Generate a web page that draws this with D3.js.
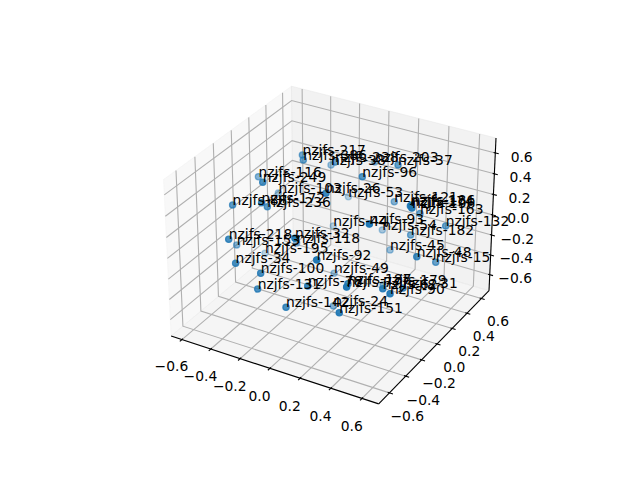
<!DOCTYPE html>
<html><head><meta charset="utf-8"><style>html,body{margin:0;background:#fff}text{font-family:"DejaVu Sans"}</style>
<script src="https://cdn.jsdelivr.net/npm/d3@7"></script></head><body><svg id="c" width="640" height="480"></svg>
<script>
const xLimits=[-0.648,0.678],yLimits=[-0.70,0.68],zLimits=[-0.734,0.711];
const tickValues=[-0.6,-0.4,-0.2,0,0.2,0.4,0.6];
const labels=["nzjfs-217","nzjfs-386","nzjfs-38","nzjfs-238","nzjfs-203","nzjfs-37","nzjfs-96","nzjfs-116","nzjfs-249","nzjfs-103","nzjfs-26","nzjfs-53","nzjfs-88","nzjfs-172","nzjfs-236","nzjfs-121","nzjfs-186","nzjfs-196","nzjfs-174","nzjfs-163","nzjfs-132","nzjfs-182","nzjfs-44","nzjfs-93","nzjfs-54","nzjfs-45","nzjfs-48","nzjfs-15","nzjfs-49","nzjfs-92","nzjfs-218","nzjfs-153","nzjfs-32","nzjfs-118","nzjfs-195","nzjfs-34","nzjfs-100","nzjfs-131","nzjfs-78","nzjfs-77","nzjfs-187","nzjfs-142","nzjfs-24","nzjfs-151","nzjfs-62","nzjfs-179","nzjfs-90","nzjfs-31"];
const xValues=[-0.240,-0.204,-0.231,-0.033,-0.009,0.297,0.191,-0.495,-0.263,-0.461,0.110,-0.182,-0.442,-0.207,-0.268,0.231,0.565,0.605,0.560,0.457,0.619,0.402,-0.217,0.470,0.087,0.200,0.620,0.606,-0.054,0.250,-0.324,-0.505,0.112,-0.292,-0.534,-0.281,-0.115,-0.140,0.177,0.439,0.326,0.048,0.074,0.393,0.542,0.296,0.619,0.558];
const yValues=[0.081,0.029,0.409,0.101,0.553,0.258,0.019,-0.000,-0.334,0.171,-0.263,0.539,-0.379,-0.443,-0.280,0.348,-0.091,-0.168,-0.097,0.236,0.247,0.231,0.412,-0.417,0.477,0.364,-0.122,0.156,0.128,-0.619,-0.618,-0.247,-0.619,0.093,0.122,-0.620,-0.620,-0.616,-0.594,-0.619,-0.396,-0.619,-0.113,-0.619,-0.384,0.094,-0.444,-0.164];
const zValues=[0.618,0.617,0.316,0.618,0.339,0.616,0.620,0.364,0.620,0.106,0.619,-0.064,0.365,0.524,0.352,0.180,0.578,0.618,0.571,0.233,0.172,0.006,-0.287,0.586,-0.246,-0.321,0.139,-0.120,-0.495,0.305,0.253,-0.139,0.446,-0.268,-0.495,0.045,0.022,-0.142,0.011,0.136,-0.047,-0.232,-0.589,-0.126,-0.008,-0.434,0.024,-0.157];
const DEG=Math.PI/180,el=30*DEG,az=-60*DEG;
const aspect=[4,4,3],n=Math.hypot(...aspect),box=aspect.map(a=>a*1.8294640721620434/n);
const dist=10;
const E=box.map((b,i)=>b/2+dist*[Math.cos(az)*Math.cos(el),Math.sin(az)*Math.cos(el),Math.sin(el)][i]);
const R=box.map(b=>b/2);
const sub=(a,b)=>a.map((v,i)=>v-b[i]);
const cross=(a,b)=>[a[1]*b[2]-a[2]*b[1],a[2]*b[0]-a[0]*b[2],a[0]*b[1]-a[1]*b[0]];
const dot=(a,b)=>a[0]*b[0]+a[1]*b[1]+a[2]*b[2];
const unit=a=>{const l=Math.hypot(...a);return a.map(v=>v/l)};
const w=unit(sub(E,R)),u=unit(cross([0,0,1],w)),v=cross(w,u);
const sx=d3.scaleLinear().domain([-0.095,0.09]).range([143.2,512.8]);
const sy=d3.scaleLinear().domain([-0.095,0.09]).range([427.2,57.6]);
const wx=d3.scaleLinear().domain(xLimits).range([0,box[0]]);
const wy=d3.scaleLinear().domain(yLimits).range([0,box[1]]);
const wz=d3.scaleLinear().domain(zLimits).range([0,box[2]]);
function proj(p){const d=sub([wx(p[0]),wy(p[1]),wz(p[2])],E);const xc=dot(d,u),yc=dot(d,v),zc=dot(d,w);return [sx(xc/-zc),sy(yc/-zc),-zc];}
const svg=d3.select("#c");
const ext=l=>{const d=(l[1]-l[0])/48;return [l[0]-d,l[1]+d]};
const [xl,xh]=ext(xLimits),[yl,yh]=ext(yLimits),[zl,zh]=ext(zLimits);
const dx=(xLimits[1]-xLimits[0])/12,dy=(yLimits[1]-yLimits[0])/12,dz=(zLimits[1]-zLimits[0])/12;
const panes=[
 {c:"rgba(242,242,242,.5)",p:[[xl,yl,zl],[xl,yh,zl],[xl,yh,zh],[xl,yl,zh]]},
 {c:"rgba(230,230,230,.5)",p:[[xl,yh,zl],[xh,yh,zl],[xh,yh,zh],[xl,yh,zh]]},
 {c:"rgba(236,236,236,.5)",p:[[xl,yl,zl],[xh,yl,zl],[xh,yh,zl],[xl,yh,zl]]}];
const line2=d3.line().x(d=>proj(d)[0]).y(d=>proj(d)[1]);
svg.selectAll(".pane").data(panes).join("path").attr("d",d=>line2(d.p)+"Z").attr("fill",d=>d.c).attr("stroke",d=>d.c);
const grids=[...tickValues.map(t=>[[t,yl,zl],[t,yh,zl],[t,yh,zh]]),...tickValues.map(t=>[[xh,t,zl],[xl,t,zl],[xl,t,zh]]),...tickValues.map(t=>[[xl,yl,t],[xl,yh,t],[xh,yh,t]])];
svg.selectAll(".grid").data(grids).join("path").attr("class","grid").attr("d",line2).attr("fill","none").attr("stroke","#b0b0b0").attr("stroke-width",1.11);
const axes=[[[xl,yl,zl],[xh,yl,zl]],[[xh,yl,zl],[xh,yh,zl]],[[xh,yh,zl],[xh,yh,zh]]];
svg.selectAll(".ax").data(axes).join("path").attr("class","ax").attr("d",line2).attr("stroke","#000").attr("stroke-width",1.11);
const ticks=[...tickValues.map(t=>[[t,yl-.2*dy,zl],[t,yl+.1*dy,zl]]),...tickValues.map(t=>[[xh+.2*dx,t,zl],[xh-.1*dx,t,zl]]),...tickValues.map(t=>[[xh+.2*dx,yh,t],[xh-.1*dx,yh,t]])];
svg.selectAll(".tk").data(ticks).join("path").attr("class","tk").attr("d",line2).attr("stroke","#000").attr("stroke-width",1.11);
const k=1.037;
const fmt=t=>(t<0?"\u2212":"")+Math.abs(t).toFixed(1);
const labs=[...tickValues.map(t=>({t,o:10,p:[t,yl-k*dy,zl-k*dz]})),...tickValues.map(t=>({t,o:10,p:[xh+k*dx,t,zl-k*dz]})),...tickValues.map(t=>({t,o:12,p:[xh+k*dx,yh+k*dy,t]}))];
svg.selectAll(".tl").data(labs).join("text").attr("class","tl").attr("x",d=>proj(d.p)[0]).attr("y",d=>proj(d.p)[1]+d.o).attr("text-anchor","middle").attr("font-size",13.89).text(d=>fmt(d.t));
const pts=labels.map((l,i)=>{const p=proj([xValues[i],yValues[i],zValues[i]]);return {l,x:p[0],y:p[1],d:p[2]}});
const shade=d3.scaleLinear().domain(d3.extent(pts,d=>d.d)).range([1,0.3]);
svg.selectAll(".pt").data(pts.slice().sort((a,b)=>b.d-a.d)).join("circle").attr("class","pt").attr("cx",d=>d.x).attr("cy",d=>d.y).attr("r",3.1).attr("fill","#1f77b4").attr("stroke","#1f77b4").attr("stroke-width",1.3).attr("fill-opacity",d=>shade(d.d)).attr("stroke-opacity",d=>shade(d.d));
svg.selectAll(".lb").data(pts).join("text").attr("class","lb").attr("x",d=>d.x).attr("y",d=>d.y).attr("font-size",13.89).text(d=>d.l);
</script></body></html>
